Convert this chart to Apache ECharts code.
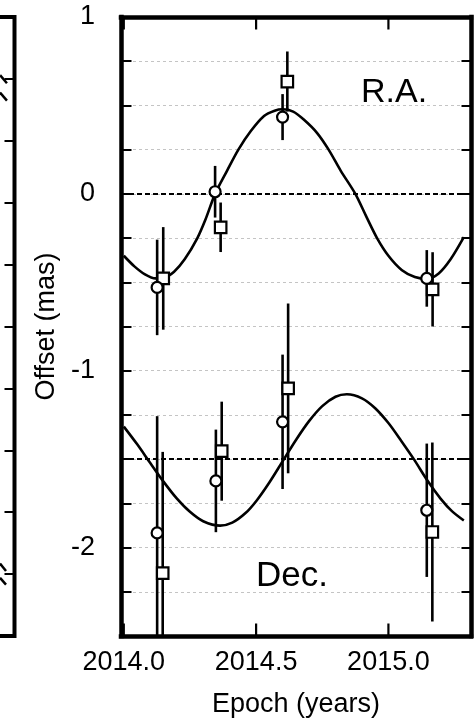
<!DOCTYPE html>
<html><head><meta charset="utf-8">
<script src="https://cdn.jsdelivr.net/npm/echarts@6/dist/echarts.min.js"></script>
<style>html,body{margin:0;padding:0;background:#fff}#c{width:476px;height:719px}</style>
</head><body><div id="c"></div>
<script>
// ---- tick labels ----
const xTicks = [2014.0, 2014.5, 2015.0];
const yLabelValues = [1, 0, -1, -2];
const refLevels = [0, -1.5];

// ---- R.A. measurements ----
const raCircleX   = [2014.126, 2014.345, 2014.600, 2015.145];
const raCircleY   = [-0.529, 0.012, 0.434, -0.478];
const raCircleErr = [0.27, 0.146, 0.13, 0.16];
const raSquareX   = [2014.149, 2014.366, 2014.618, 2015.167];
const raSquareY   = [-0.478, -0.189, 0.635, -0.540];
const raSquareErr = [0.29, 0.14, 0.17, 0.21];

// ---- Dec. measurements ----
const decCircleX   = [2014.126, 2014.348, 2014.600, 2015.145];
const decCircleY   = [-1.917, -1.623, -1.289, -1.789];
const decCircleErr = [0.66, 0.29, 0.38, 0.377];
const decSquareX   = [2014.147, 2014.370, 2014.621, 2015.166];
const decSquareY   = [-2.144, -1.455, -1.100, -1.912];
const decSquareErr = [0.685, 0.28, 0.48, 0.506];

// ---- model curves ----
const raCurveX = [2014.00,2014.04,2014.08,2014.12,2014.15,2014.19,2014.23,2014.278,2014.31,2014.345,2014.39,2014.433,2014.48,2014.53,2014.57,2014.60,2014.64,2014.68,2014.73,2014.774,2014.82,2014.875,2014.917,2014.957,2015.00,2015.05,2015.10,2015.146,2015.19,2015.235,2015.285];
const raCurveY = [-0.35,-0.41,-0.455,-0.478,-0.475,-0.44,-0.37,-0.25,-0.14,0.0,0.13,0.25,0.355,0.44,0.47,0.478,0.465,0.42,0.345,0.25,0.13,0.0,-0.13,-0.25,-0.35,-0.43,-0.47,-0.48,-0.45,-0.37,-0.245];
const decCurveX = [2014.00,2014.05,2014.10,2014.15,2014.20,2014.25,2014.30,2014.364,2014.41,2014.46,2014.503,2014.55,2014.597,2014.65,2014.70,2014.75,2014.80,2014.843,2014.90,2014.95,2015.00,2015.05,2015.096,2015.15,2015.197,2015.24,2015.285];
const decCurveY = [-1.316,-1.415,-1.522,-1.627,-1.722,-1.798,-1.851,-1.876,-1.859,-1.805,-1.732,-1.632,-1.52,-1.393,-1.285,-1.20,-1.147,-1.133,-1.156,-1.212,-1.296,-1.40,-1.50,-1.627,-1.723,-1.794,-1.847];

// ---- fragments of neighbouring (cropped) panel ----
const leftFragA = [[95.4, 9.06], [97.6, 8.93]];
const leftFragB = [[95.4, 8.78], [97.6, 8.65]];
const leftFragC = [[95.4, 1.17], [97.3, 1.05]];
const leftFragD = [[95.4, 0.94], [97.3, 0.83]];

const FONT = "'Liberation Sans', Arial, Helvetica, sans-serif";
const Y_MIN = -2.5, Y_MAX = 1;
const zip = (xs, ys) => xs.map((x, i) => [x, ys[i]]);
const FRAME = { show: true, onZero: false, lineStyle: { color: '#000', width: 4.5, cap: 'square' } };

function errBars(xs, ys, es, z) {
  return {
    type: 'custom', xAxisIndex: 0, yAxisIndex: 0, z: z, clip: true, silent: true,
    data: xs.map((x, i) => [x, ys[i] - es[i], ys[i] + es[i]]),
    encode: { x: 0, y: [1, 2] },
    renderItem: function (params, api) {
      const a = api.coord([api.value(0), api.value(1)]);
      const b = api.coord([api.value(0), api.value(2)]);
      return { type: 'line', shape: { x1: a[0], y1: a[1], x2: b[0], y2: b[1] },
               style: { stroke: '#000', lineWidth: 2.6 } };
    }
  };
}
function markers(xs, ys, sym, size, z) {
  return { type: 'scatter', xAxisIndex: 0, yAxisIndex: 0, z: z, symbol: sym, symbolSize: size,
    data: zip(xs, ys), itemStyle: { color: '#fff', borderColor: '#000', borderWidth: 2.2, opacity: 1 } };
}
function frag(d) {
  return { type: 'line', xAxisIndex: 2, yAxisIndex: 2, data: d, showSymbol: false, symbol: 'none',
    lineStyle: { color: '#000', width: 2.5 } };
}
// x-axis major tick marks (top and bottom, pointing inward), placed through the axis scale
const xTickSeries = {
  type: 'custom', xAxisIndex: 0, yAxisIndex: 0, z: 6, clip: false, silent: true,
  data: xTicks.map(v => [v, Y_MIN, Y_MAX]), encode: { x: 0, y: [1, 2] },
  renderItem: function (params, api) {
    const b = api.coord([api.value(0), api.value(1)]);
    const t = api.coord([api.value(0), api.value(2)]);
    return { type: 'group', children: [
      { type: 'line', shape: { x1: b[0], y1: b[1], x2: b[0], y2: b[1] - 12.5 }, style: { stroke: '#000', lineWidth: 2.2 } },
      { type: 'line', shape: { x1: t[0], y1: t[1], x2: t[0], y2: t[1] + 12.5 }, style: { stroke: '#000', lineWidth: 2.2 } }
    ] };
  }
};

const chart = echarts.init(document.getElementById('c'), null, { renderer: 'canvas' });
chart.setOption({
  animation: false,
  backgroundColor: '#fff',
  textStyle: { fontFamily: FONT },
  grid: [
    { left: 121, top: 17, width: 350, height: 619, show: false, containLabel: false, outerBoundsMode: 'none' },
    { left: -300, top: 17, width: 314.5, height: 619, show: true, borderColor: '#000', borderWidth: 4,
      backgroundColor: 'transparent', containLabel: false, outerBoundsMode: 'none' }
  ],
  xAxis: [
    { type: 'value', gridIndex: 0, position: 'bottom', min: 2013.9894, max: 2015.3121,
      name: 'Epoch (years)', nameLocation: 'middle', nameGap: 55,
      nameTextStyle: { fontSize: 27, color: '#000', fontFamily: FONT },
      axisLine: FRAME,
      axisTick: { show: false },
      axisLabel: { show: true, customValues: xTicks, margin: 13, fontSize: 27, color: '#000', fontFamily: FONT,
                   formatter: v => Number(v).toFixed(1) },
      splitLine: { show: false } },
    { type: 'value', gridIndex: 0, position: 'top', min: 2013.9894, max: 2015.3121,
      axisLine: FRAME, axisTick: { show: false },
      axisLabel: { show: false }, splitLine: { show: false } },
    { type: 'value', gridIndex: 1, min: 0, max: 100, show: false, axisLine: { onZero: false } }
  ],
  yAxis: [
    { type: 'value', gridIndex: 0, position: 'left', min: Y_MIN, max: Y_MAX, interval: 0.25,
      name: 'Offset (mas)', nameLocation: 'middle', nameGap: 57, nameRotate: 90,
      nameTextStyle: { fontSize: 27, color: '#000', fontFamily: FONT },
      axisLine: FRAME,
      axisTick: { show: true, inside: true, length: 10.5, lineStyle: { color: '#000', width: 2 } },
      axisLabel: { show: true, customValues: yLabelValues, margin: 26, fontSize: 27, color: '#000', fontFamily: FONT,
                   formatter: v => String(v) },
      splitLine: { show: true, lineStyle: { color: '#c4c4c4', width: 1, type: [3, 3] } } },
    { type: 'value', gridIndex: 0, position: 'right', min: Y_MIN, max: Y_MAX, interval: 0.25,
      axisLine: FRAME,
      axisTick: { show: true, inside: true, length: 9.5, lineStyle: { color: '#000', width: 2 } },
      axisLabel: { show: false }, splitLine: { show: false } },
    { type: 'value', gridIndex: 1, position: 'right', min: 0, max: 10, interval: 1,
      axisLine: { show: false, onZero: false },
      axisTick: { show: true, inside: true, length: 10, lineStyle: { color: '#000', width: 2 } },
      axisLabel: { show: false }, splitLine: { show: false } }
  ],
  graphic: [
    { type: 'text', left: 361, top: 76, z: 10,
      style: { text: 'R.A.', font: "34px " + FONT, fill: '#000' } },
    { type: 'text', left: 256, top: 559, z: 10,
      style: { text: 'Dec.', font: "35px " + FONT, fill: '#000' } }
  ],
  series: [
    { type: 'line', xAxisIndex: 0, yAxisIndex: 0, z: 2, data: zip(raCurveX, raCurveY),
      showSymbol: false, symbol: 'none', smooth: 0.3, lineStyle: { color: '#000', width: 2.6 },
      markLine: { silent: true, symbol: 'none', label: { show: false },
        lineStyle: { color: '#000', width: 2, type: [5, 3] },
        data: refLevels.map(v => ({ yAxis: v })) } },
    { type: 'line', xAxisIndex: 0, yAxisIndex: 0, z: 2, data: zip(decCurveX, decCurveY),
      showSymbol: false, symbol: 'none', smooth: 0.3, lineStyle: { color: '#000', width: 2.6 } },
    errBars(raSquareX, raSquareY, raSquareErr, 3),
    errBars(decSquareX, decSquareY, decSquareErr, 3),
    errBars(raCircleX, raCircleY, raCircleErr, 3),
    errBars(decCircleX, decCircleY, decCircleErr, 3),
    markers(raSquareX, raSquareY, 'rect', 11.5, 4),
    markers(decSquareX, decSquareY, 'rect', 11.5, 4),
    markers(raCircleX, raCircleY, 'circle', 11, 5),
    markers(decCircleX, decCircleY, 'circle', 11, 5),
    xTickSeries,
    frag(leftFragA), frag(leftFragB), frag(leftFragC), frag(leftFragD)
  ]
});
</script></body></html>
